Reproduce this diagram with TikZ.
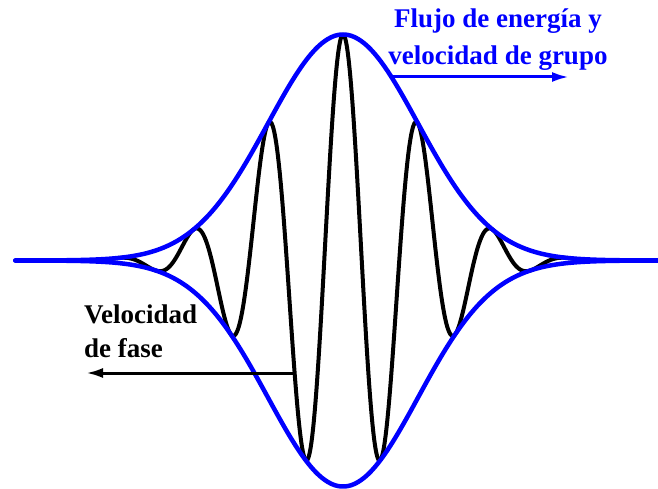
\documentclass[tikz,border=0pt]{standalone}
\usepackage{fontspec}
\setmainfont{Liberation Serif}
\usetikzlibrary{arrows.meta}

\begin{document}
\begin{tikzpicture}[x=1pt,y=-1pt,>={Latex[length=17pt,width=10pt]},
  every node/.style={font=\fontsize{27}{32}\selectfont\bfseries,inner sep=0pt}]
  \useasboundingbox (0,0) rectangle (658,489);
  % carrier inside the envelope
  \draw[line width=4pt,line join=round] plot[domain=-3.3:3.3,samples=400,smooth]
    ({343+75*\x},{260.5-226*exp(-(\x)^2/2)*cos(360*\x)});
  % envelope
  \draw[blue,line width=4.5pt,line cap=round] plot[domain=-4.37:4.37,samples=200,smooth]
    ({343+75*\x},{260.5-226*exp(-(\x)^2/2)});
  \draw[blue,line width=4.5pt,line cap=round] plot[domain=-4.37:4.37,samples=200,smooth]
    ({343+75*\x},{260.5+226*exp(-(\x)^2/2)});
  % group velocity
  \node[blue,anchor=base] (grupo1) at (498,28) {Flujo de energía y};
  \node[blue,anchor=base] (grupo2) at (498,65) {velocidad de grupo};
  \coordinate (gs) at (393,77);
  \coordinate (ge) at (569,77);
  \draw[blue,line width=3pt,->] (gs) -- (ge);
  % phase velocity
  \node[anchor=base west] (fase1) at (84,323) {Velocidad};
  \node[anchor=base west] (fase2) at (84,357) {de fase};
  \coordinate (fs) at (293,373);
  \coordinate (fe) at (86,373);
  \draw[line width=3pt,->] (fs) -- (fe);
\end{tikzpicture}
\end{document}
